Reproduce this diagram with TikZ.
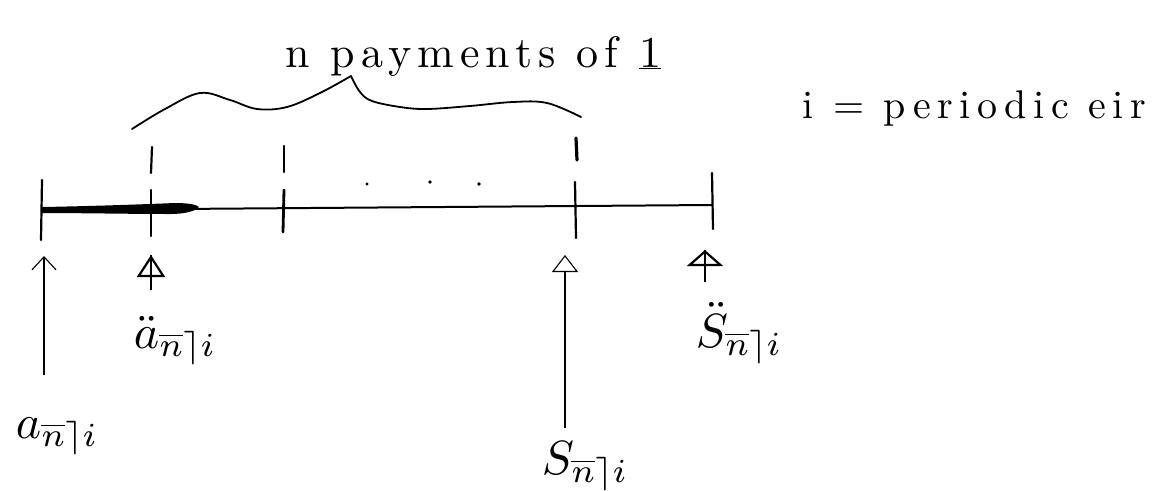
\documentclass[tikz,border=0pt]{standalone}
\usepackage{fontspec}
\IfFontExistsTF{lmroman10-regular.otf}{%
  \newfontfamily\spacedtitle{lmroman10-regular.otf}[LetterSpace=14]%
  \newfontfamily\spacedrate{lmroman10-regular.otf}[LetterSpace=16]%
}{%
  \newfontfamily\spacedtitle{Liberation Serif}[LetterSpace=10]%
  \newfontfamily\spacedrate{Liberation Serif}[LetterSpace=14]%
}
\usetikzlibrary{arrows.meta}
\begin{document}
\begin{tikzpicture}[x=1pt,y=-1pt,
  axis/.style={line width=2pt, line cap=round},
  tickmark/.style={line width=2.2pt, line cap=round},
  bracepath/.style={line width=1.8pt, line cap=round, line join=round},
  thinarrow/.style={line width=1.1pt, -{Straight Barb[length=13pt,width=24pt,line width=1.1pt]}},
  slimtri/.style={line width=1.1pt, -{Triangle[open,length=17pt,width=26pt,line width=1.1pt]}},
  hand/.style={anchor=base west, inner sep=0pt},
  lbl/.style={anchor=base west, inner sep=0pt, scale=4.8}
]
\useasboundingbox (0,0) rectangle (1156,490);

% texts
\node[hand, font=\spacedtitle\fontsize{44}{44}\selectfont] (title) at (285,67)
  {n payments of \underline{1}};
\node[hand, font=\spacedrate\fontsize{40}{40}\selectfont] (rate) at (802,118)
  {i = periodic eir};

% brace
\draw[bracepath] plot[smooth, tension=0.6] coordinates
  {(132,129) (165,109) (200,93) (230,100) (257,109) (287,107) (320,93) (351,76)};
\draw[bracepath] plot[smooth, tension=0.6] coordinates
  {(351,76) (360,92) (372,101) (400,107) (427,109) (470,106) (513,102) (547,103) (581,117)};

% upper payment ticks
\draw[tickmark] (152,147) -- (151,173);
\draw[tickmark] (284,146) -- (284,172);
\draw[line width=3.2pt, line cap=round] (576,138) -- (577,160);

% dots
\fill (367,184) circle (1.6);
\fill (430,182) circle (1.8);
\fill (479,184) circle (1.8);

% time line
\coordinate (t0) at (42,210);
\coordinate (t4) at (712,205);
\draw[axis] (t0) -- (t4);
\fill (42,207) .. controls (100,206) and (150,204) .. (175,203)
  .. controls (190,203) and (197,205) .. (199,207)
  .. controls (196,211) and (185,214) .. (170,214)
  .. controls (130,214) and (80,213) .. (42,213) -- cycle;
\draw[tickmark] (42,180) -- (41,240);
\draw[tickmark] (151,190) -- (151,236);
\draw[line width=2.8pt, line cap=round] (284,190) -- (283,232);
\draw[tickmark] (575,182) -- (576,238);
\draw[tickmark] (712,173) -- (713,229);

% labels
\node[lbl] (lblA) at (15,438) {$a_{\overline{n}\rceil i}$};
\node[lbl] (lblAdd) at (133,348) {$\ddot{a}_{\overline{n}\rceil i}$};
\node[lbl] (lblS) at (541,474) {$S_{\overline{n}\rceil i}$};
\node[lbl] (lblSdd) at (695,347) {$\ddot{S}_{\overline{n}\rceil i}$};

% arrows
\coordinate (aTip) at (44,256);  \coordinate (aTail) at (44,375);
\coordinate (bTip) at (151,255); \coordinate (bTail) at (151,290);
\coordinate (cTip) at (565,255); \coordinate (cTail) at (565,428);
\coordinate (dTip) at (705,250); \coordinate (dTail) at (705,282);
\draw[thinarrow] (aTail) -- (aTip);
\draw[slimtri] (cTail) -- (cTip);
\draw[line width=2.2pt, -{Triangle[open,length=22pt,width=28pt,line width=2.2pt]}] (bTail) -- (bTip);
\draw[line width=2.2pt] (bTail) -- (bTip);
\draw[line width=2.2pt, -{Triangle[open,length=16pt,width=36pt,line width=2.2pt]}] (dTail) -- (dTip);
\draw[line width=2.2pt] (dTail) -- (dTip);
\end{tikzpicture}
\end{document}
